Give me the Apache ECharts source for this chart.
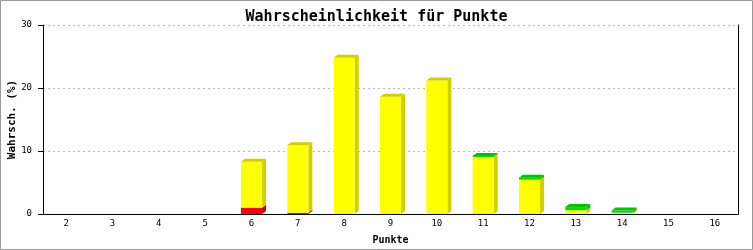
<!DOCTYPE html>
<html>
<head>
<meta charset="utf-8">
<script src="https://cdn.jsdelivr.net/npm/echarts@6/dist/echarts.min.js"></script>
<style>
html,body{margin:0;padding:0;background:#fff;}
#chart{width:753px;height:250px;}
</style>
</head>
<body>
<div id="chart"></div>
<script>
const categories = ['2','3','4','5','6','7','8','9','10','11','12','13','14','15','16'];
const redValues    = [0,0,0,0,1.0,0.2,0,0,0,0,0,0,0,0,0];
const yellowValues = [0,0,0,0,7.3,10.7,24.8,18.6,21.2,9.05,5.45,0.6,0.2,0,0];
const greenValues  = [0,0,0,0,0,0,0,0,0,0.15,0.32,0.5,0.35,0,0];
const yTicks = [0,10,20,30];

const segColors = [
  {front:'#ff0000', side:'#cc0000', top:'#cc0000'},
  {front:'#ffff00', side:'#d0d000', top:'#d0d000'},
  {front:'#00dd00', side:'#00bb00', top:'#00c400'}
];

const data = categories.map((c,i)=>[i, redValues[i], yellowValues[i], greenValues[i]]);

const chart = echarts.init(document.getElementById('chart'), null, {renderer:'canvas'});
const mono = "'DejaVu Sans Mono', 'Liberation Mono', monospace";

chart.setOption({
  animation:false,
  backgroundColor:'#fff',
  graphic:[{type:'rect', shape:{x:0.5,y:0.5,width:752,height:249}, style:{fill:'none', stroke:'#999', lineWidth:1}, z:-1}],
  title:{
    text:'Wahrscheinlichkeit für Punkte',
    left:'center', top:5,
    textStyle:{fontFamily:mono, fontWeight:'bold', fontSize:15, color:'#000'}
  },
  grid:{left:43, right:15, top:25, bottom:36, containLabel:false, outerBoundsMode:'none'},
  xAxis:{
    type:'category', data:categories, boundaryGap:true,
    name:'Punkte', nameLocation:'middle', nameGap:21, nameMoveOverlap:false,
    nameTextStyle:{fontFamily:mono, fontWeight:'bold', fontSize:10, color:'#000'},
    axisLine:{lineStyle:{color:'#000', width:1}},
    axisTick:{show:false},
    axisLabel:{fontFamily:mono, fontSize:9, color:'#000', margin:5},
    splitLine:{show:false}
  },
  yAxis:[{
    type:'value', min:0, max:30, interval:10,
    name:'Wahrsch. (%)', nameLocation:'middle', nameGap:25, nameRotate:90, nameMoveOverlap:false,
    nameTextStyle:{fontFamily:mono, fontWeight:'bold', fontSize:11, color:'#000'},
    axisLine:{show:true, lineStyle:{color:'#000', width:1}},
    axisTick:{show:true, length:5, lineStyle:{color:'#000'}},
    axisLabel:{fontFamily:mono, fontSize:9, color:'#000', margin:11,
      formatter:(v)=> yTicks.includes(v) ? String(v) : ''},
    splitLine:{show:true, lineStyle:{color:'#bbbbbb', type:[2,3], width:1}}
  },{
    type:'value', min:0, max:30, interval:10, position:'right',
    axisLine:{show:true, lineStyle:{color:'#000', width:1}},
    axisTick:{show:false}, axisLabel:{show:false}, splitLine:{show:false}
  }],
  series:[{
    type:'custom',
    data:data,
    encode:{x:0, y:[1,2,3]},
    renderItem:function(params, api){
      const i = api.value(0);
      const vals = [api.value(1), api.value(2), api.value(3)];
      const bw = api.size([1,0])[0]*0.455;
      const d = 4, dv = 3;
      let topIdx = -1;
      vals.forEach((v,k)=>{ if(v>0) topIdx=k; });
      const children = [];
      let base = 0;
      for(let k=0;k<3;k++){
        const v = vals[k];
        if(!(v>0)) continue;
        const p0 = api.coord([i, base]);
        const p1 = api.coord([i, base+v]);
        const x0 = p0[0]-bw/2, x1 = x0+bw;
        children.push({type:'polygon', shape:{points:[[x1,p1[1]],[x1+d,p1[1]-dv],[x1+d,p0[1]-dv],[x1,p0[1]]]}, style:{fill:segColors[k].side}});
        children.push({type:'rect', shape:{x:x0, y:p1[1], width:bw, height:p0[1]-p1[1]}, style:{fill:segColors[k].front}});
        if(k===topIdx){
          const yT = p1[1];
          children.push({type:'polygon', shape:{points:[[x0,yT],[x0+d,yT-dv],[x1+d,yT-dv],[x1,yT]]}, style:{fill:segColors[k].top}});
        }
        base += v;
      }
      return {type:'group', children:children};
    }
  }]
});
</script>
</body>
</html>
